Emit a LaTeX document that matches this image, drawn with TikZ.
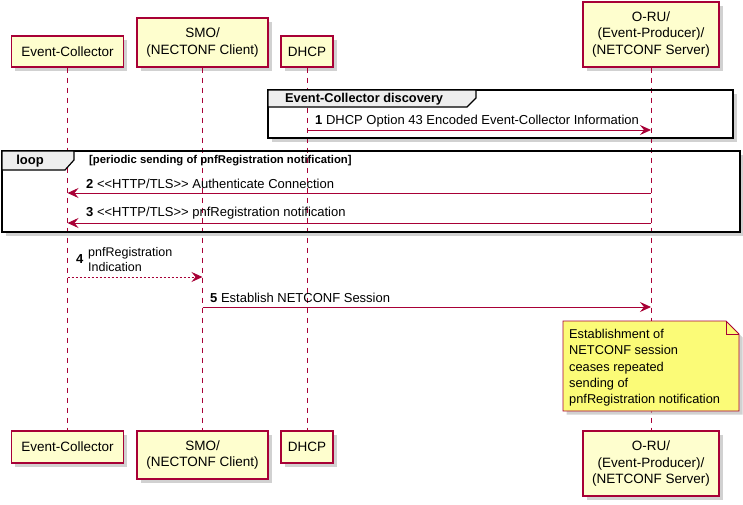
\documentclass[tikz,border=0pt]{standalone}
\usepackage{fontspec}
\setmainfont{Liberation Sans}
\usetikzlibrary{arrows.meta}
\definecolor{pu}{HTML}{A80036}
\definecolor{pfill}{HTML}{FEFECE}
\definecolor{nfill}{HTML}{FBFB77}
\definecolor{gfill}{HTML}{EEEEEE}
\begin{document}
\begin{tikzpicture}[x=1pt,y=-1pt,
  shadowed/.style={preaction={fill=black!30,opacity=0.6,transform canvas={xshift=3.5pt,yshift=-3.5pt}}},
  part/.style={draw=pu,fill=pfill,line width=1.1pt,shadowed,align=center,inner sep=0pt,
    font=\fontsize{13.5}{16.5}\selectfont},
  life/.style={draw=pu,line width=0.8pt,dash pattern=on 5pt off 5pt},
  msg/.style={draw=pu,line width=0.9pt,-{Stealth[length=11pt,width=10pt,inset=4pt]}},
  dmsg/.style={msg,dash pattern=on 2pt off 2pt},
  lbl/.style={anchor=west,inner sep=0pt,font=\fontsize{13}{15}\selectfont},
  grp/.style={draw=black,line width=1.5pt},
  ghead/.style={draw=black,fill=gfill,line width=1.2pt},
]
\useasboundingbox (0,0) rectangle (743,504);
% group backgrounds (shadow + white fill)
\fill[shadowed,white] (268,90) rectangle (733,138);
\fill[shadowed,white] (2,151) rectangle (740,232);
% participants top
\node[part,minimum width=112pt,minimum height=31pt] (ect) at (67.5,51.5) {Event-Collector};
\node[part,minimum width=131pt,minimum height=49pt] (smot) at (202.5,42.5) {SMO/\\(NECTONF Client)};
\node[part,minimum width=52pt,minimum height=31pt] (dht) at (307,51.5) {DHCP};
\node[part,minimum width=136pt,minimum height=65pt] (orut) at (651,34.5) {O-RU/\\(Event-Producer)/\\(NETCONF Server)};
% participants bottom
\node[part,minimum width=112pt,minimum height=32pt] (ecb) at (67.5,447) {Event-Collector};
\node[part,minimum width=131pt,minimum height=48pt] (smob) at (202.5,455) {SMO/\\(NECTONF Client)};
\node[part,minimum width=52pt,minimum height=32pt] (dhb) at (307,447) {DHCP};
\node[part,minimum width=136pt,minimum height=65pt] (orub) at (651,463.5) {O-RU/\\(Event-Producer)/\\(NETCONF Server)};
% lifelines
\draw[life] (ect.south) -- (ecb.north);
\draw[life] (smot.south) -- (smob.north);
\draw[life] (dht.south) -- (dhb.north);
\draw[life] (orut.south) -- (orub.north);
% group: discovery
\draw[grp] (268,90) rectangle (733,138);
\draw[ghead] (268,90) -- (476,90) -- (476,98) -- (467,107) -- (268,107) -- cycle;
\node[anchor=west,inner sep=0pt,font=\bfseries\fontsize{12.8}{14}\selectfont] (g1t) at (285,99) {Event-Collector discovery};
% group: loop
\draw[grp] (2,151) rectangle (740,232);
\draw[ghead] (2,151) -- (74,151) -- (74,160) -- (65,170) -- (2,170) -- cycle;
\node[inner sep=0pt,font=\bfseries\fontsize{13}{14}\selectfont] (g2t) at (30,161) {loop};
\node[anchor=west,inner sep=0pt,font=\bfseries\fontsize{11.3}{12}\selectfont] (g2c) at (89,161) {[periodic sending of pnfRegistration notification]};
% message coordinates
\coordinate (m1a) at (dht.south |- 0,130);
\coordinate (m1b) at (orut.south |- 0,130);
\coordinate (m2a) at (orut.south |- 0,193);
\coordinate (m2b) at (ect.south |- 0,193);
\coordinate (m3a) at (orut.south |- 0,223);
\coordinate (m3b) at (ect.south |- 0,223);
\coordinate (m4a) at (ect.south |- 0,277);
\coordinate (m4b) at (smot.south |- 0,277);
\coordinate (m5a) at (smot.south |- 0,307);
\coordinate (m5b) at (orut.south |- 0,307);
\draw[msg] (m1a) -- (m1b);
\draw[msg] (m2a) -- (m2b);
\draw[msg] (m3a) -- (m3b);
\draw[dmsg] (m4a) -- (m4b);
\draw[msg] (m5a) -- (m5b);
\node[lbl] (l1) at (315,121.5) {\textbf{1} DHCP Option 43 Encoded Event-Collector Information};
\node[lbl] (l2) at (86,183.5) {\textbf{2} <{}<HTTP/TLS>{}> Authenticate Connection};
\node[lbl] (l3) at (86,213.5) {\textbf{3} <{}<HTTP/TLS>{}> pnfRegistration notification};
\node[lbl] (l4n) at (76,259.5) {\textbf{4}};
\node[lbl,align=left,font=\fontsize{12.5}{15}\selectfont] (l4) at (88,259.5) {pnfRegistration\\Indication};
\node[lbl] (l5) at (210,298) {\textbf{5} Establish NETCONF Session};
% note
\draw[draw=pu,fill=nfill,line width=0.9pt,shadowed] (563,321) -- (726,321) -- (739,334) -- (739,411) -- (563,411) -- cycle;
\draw[draw=pu,line width=0.9pt] (726,321) -- (726,334) -- (739,334);
\node[anchor=north west,inner sep=0pt,align=left,font=\fontsize{12.8}{16.3}\selectfont] (nt) at (569,329) {Establishment of\\NETCONF session\\ceases repeated\\sending of\\pnfRegistration notification};
\end{tikzpicture}
\end{document}
